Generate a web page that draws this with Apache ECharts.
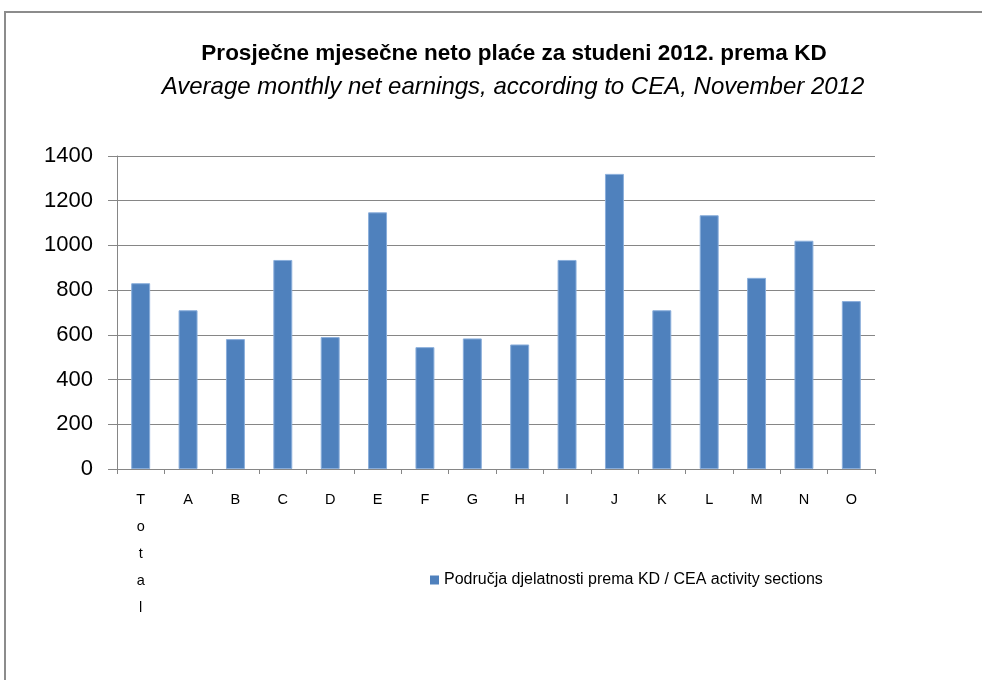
<!DOCTYPE html>
<html><head><meta charset="utf-8">
<script src="https://cdn.jsdelivr.net/npm/echarts@6/dist/echarts.min.js"></script>
<style>html,body{margin:0;padding:0;background:#fff}#c{width:982px;height:680px}</style>
</head><body><div id="c"></div>
<script>
const categories = ['Total','A','B','C','D','E','F','G','H','I','J','K','L','M','N','O'];
const earnings = [831, 710, 581, 935, 590, 1148, 545, 584, 557, 935, 1320, 710, 1135, 855, 1021, 751];
const yTicks = [0, 200, 400, 600, 800, 1000, 1200, 1400];
const titleText = 'Prosječne mjesečne neto plaće za studeni 2012. prema KD';
const subtitleText = 'Average monthly net earnings, according to CEA, November 2012';
const seriesName = 'Područja djelatnosti prema KD / CEA activity sections';

const chart = echarts.init(document.getElementById('c'), null, {renderer:'canvas'});
const font = 'Liberation Sans';
chart.setOption({
  animation: false,
  backgroundColor: '#fff',
  graphic: [{type:'rect', shape:{x:5, y:12, width:1000, height:700}, style:{fill:'none', stroke:'#8c8c8c', lineWidth:2}}],
  title: [
    {text: titleText, left: 514, top: 42, textAlign: 'center', padding: 0,
     textStyle:{fontFamily:font, fontSize:22.5, fontWeight:'bold', color:'#000'}},
    {text: subtitleText, left: 513, top: 75, textAlign: 'center', padding: 0,
     textStyle:{fontFamily:font, fontSize:24, fontStyle:'italic', fontWeight:'normal', color:'#000'}}
  ],
  legend: {
    left: 430, top: 572, itemWidth: 9, itemHeight: 9, itemGap: 4, padding: 0,
    icon: 'rect',
    itemStyle:{color:'#4F81BD', borderWidth:0},
    textStyle:{fontFamily:font, fontSize:16, color:'#000'},
    data: [seriesName]
  },
  grid: {left: 117, right: 107, top: 156, bottom: 211, containLabel: false},
  xAxis: {
    type: 'category', data: categories,
    axisLine:{lineStyle:{color:'#868686', width:1}},
    axisTick:{show:true, alignWithLabel:false, length:5, lineStyle:{color:'#868686'}},
    axisLabel:{fontFamily:font, fontSize:14.5, color:'#000', margin:17, interval:0, lineHeight:27,
      formatter: v => v.length > 1 ? v.split('').join('\n') : v}
  },
  yAxis: {
    type: 'value', min: 0, max: 1400, interval: 200,
    axisLine:{show:true, lineStyle:{color:'#868686', width:1}},
    axisTick:{show:true, length:9, lineStyle:{color:'#868686'}},
    splitLine:{lineStyle:{color:'#868686', width:1}},
    axisLabel:{fontFamily:font, fontSize:22, color:'#000', margin:24,
      formatter: v => yTicks.includes(v) ? String(v) : ''}
  },
  series: [{
    name: seriesName, type: 'bar', data: earnings, barWidth: '40%',
    itemStyle:{color:'#4F81BD', borderColor:'#8aaedb', borderWidth:1}
  }]
});
</script></body></html>
